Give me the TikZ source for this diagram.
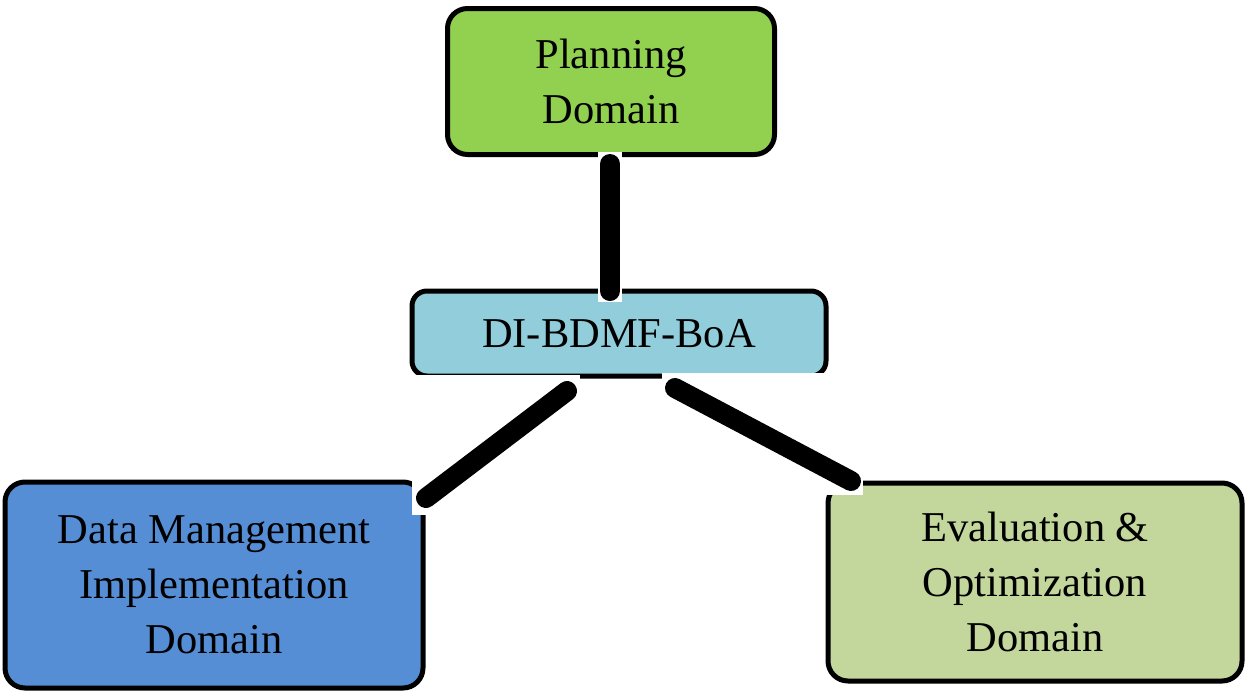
\documentclass[tikz,border=0pt]{standalone}
\usepackage{fontspec}
\setmainfont{Liberation Serif}
\definecolor{planfill}{HTML}{92D050}
\definecolor{corefill}{HTML}{92CDDC}
\definecolor{datafill}{HTML}{558ED5}
\definecolor{evalfill}{HTML}{C3D69B}
\tikzset{
  domainbox/.style={draw=black, line width=5pt, rounded corners=20pt, align=center,
    font=\fontsize{42.5}{55}\selectfont, inner sep=0pt},
  halo/.style={fill=white, draw=none},
  link/.style={line width=20pt, line cap=round, black}
}
\begin{document}
\begin{tikzpicture}[x=1pt,y=-1pt]
\useasboundingbox (0,0) rectangle (1247,694);
% domain boxes
\node[domainbox, fill=planfill, minimum width=327pt, minimum height=146pt] (plan) at (611,81.5) {Planning\\Domain};
\node[domainbox, fill=corefill, rounded corners=15pt, minimum width=414pt, minimum height=85pt] (core) at (619,333.5) {DI-BDMF-BoA};
\node[domainbox, fill=datafill, minimum width=418pt, minimum height=206pt] (data) at (214,585) {Data Management\\Implementation\\Domain};
\node[domainbox, fill=evalfill, minimum width=414pt, minimum height=198pt] (eval) at (1035,582) {Evaluation \&\\Optimization\\Domain};
% connector end points
\coordinate (p1) at (610,164);
\coordinate (p2) at (610,291);
\coordinate (d1) at (567,391);
\coordinate (d2) at (426,498);
\coordinate (e1) at (675,388);
\coordinate (e2) at (851,481);
% white backing behind each connector
\fill[halo] (598,152) rectangle (622,302);
\fill[halo] (412,375) rectangle (580,515);
\fill[halo] (662,373) rectangle (863,495);
% connectors
\draw[link] (p1) -- (p2);
\draw[link] (d1) -- (d2);
\draw[link] (e1) -- (e2);
\end{tikzpicture}
\end{document}
